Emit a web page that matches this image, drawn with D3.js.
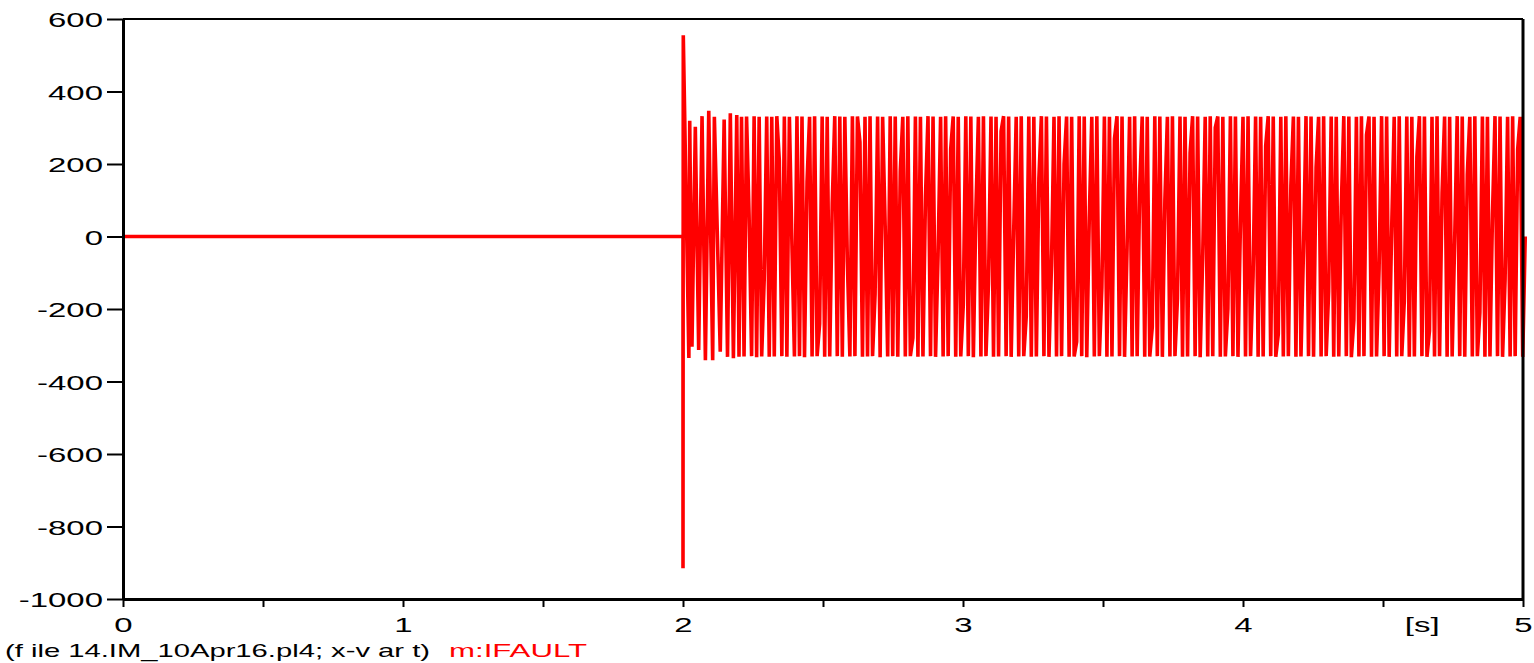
<!DOCTYPE html>
<html>
<head>
    <meta charset="utf-8">
    <title>m:IFAULT</title>
    <script src="https://cdnjs.cloudflare.com/ajax/libs/d3/7.8.5/d3.min.js"></script>
    <style>
        body { margin: 0; background: #fff; }
        svg { display: block; font-family: "Liberation Sans", Arial, sans-serif; }
    </style>
</head>
<body>
    <div id="chart"></div>

    <script>
        // tick values
        var yTicks = [600, 400, 200, 0, -200, -400, -600, -800, -1000];
        var xTicks = [0, 0.5, 1, 1.5, 2, 2.5, 3, 3.5, 4, 4.5, 5];
        var xLabels = [0, 1, 2, 3, 4, 5];

        // before the fault: flat zero
        var prefaultTimes = [0, 2.0];
        var prefaultValues = [0, 0];

        // fault inception and first cycles
        var transientTimes = [2.0, 2.001, 2.021, 2.024, 2.032, 2.044, 2.056, 2.068, 2.080, 2.092,
            2.106, 2.112, 2.118, 2.133, 2.147, 2.159, 2.169, 2.180, 2.192];
        var transientValues = [-915, 555, -335, 319, -304, 303, -313, 332, -341, 347,
            -341, 330, 150, -318, 323, -332, 340, -336, 335];

        // steady fault current, one sample every 0.009 s from 2.2 s
        var steadyStart = 2.2;
        var steadyStep = 0.009;
        var steadyValues = [
            -332, 330, -331, 331, 60, -330, 332, -333, 330, -331, -120, 331, -332, 330, -331, 332, 210, -330, 331, -332, 330, -20, -331, 332,
            -330, 331, -333, 150, 330, -331, 332, -330, -240, 331, -332, 330, -331, 90, 332, -330, 331, -332, 330, -70, -331, 332, -330, 331,
            260, -332, 330, -331, 332, -330, -160, 331, -333, 330, 30, -331, 332, -330, 331, -332, 180, 330, -331, 332, -330, -280, 331, -332,
            330, -331, 110, 332, -330, 331, -332, -50, 330, -331, 332, -330, 240, 331, -332, 330, -331, -190, 332, -330, 331, -333, 70, 330,
            -331, 332, -330, -130, 331, -332, 330, -331, 290, 332, -330, 331, -332, 10, 330, -331, 332, -330, -220, 331, -332, 330, -331, 160,
            332, -330, 331, -332, -80, 330, -331, 332, -330, 200, 331, -332, 330, -331, -290, 332, -330, 331, -333, 50, 330, -331, 332, -330,
            -140, 331, -332, 330, -331, 270, 332, -330, 331, -332, -30, 330, -331, 332, -330, 130, 331, -332, 330, -331, -250, 332, -330, 331,
            -332, 100, 330, -331, 332, -330, -170, 331, -332, 330, -331, 230, 332, -330, 331, -333, -60, 330, -331, 332, -330, 300, 331, -332,
            330, -331, -200, 332, -330, 331, -332, 40, 330, -331, 332, -330, -110, 331, -332, 330, -331, 250, 332, -330, 331, -332, -270, 330,
            -331, 332, -330, 140, 331, -332, 330, -331, -40, 332, -330, 331, -332, 190, 330, -331, 332, -330, -150, 331, -332, 330, -331, 80,
            332, -330, 331, -333, -230, 330, -331, 332, -330, 280, 331, -332, 330, -331, -90, 332, -330, 331, -332, 20, 330, -331, 332, -330,
            -180, 331, -332, 330, -331, 220, 332, -330, 331, -332, -260, 330, -331, 332, -330, 120, 331, -332, 330, -331, -10, 332, -330, 331,
            -332, 170, 330, -331, 332, -330, -210, 331, -332, 330, -331, 60, 332, -330, 331, -332, -120, 330, -331, 332, -330, 240, 330, -332,
            0
        ];

        var svgWidth = 1534;
        var svgHeight = 663;
        var plotLeft = 123, plotRight = 1523, plotTop = 19, plotBottom = 599;
        var stretch = 1.57;

        var svg = d3.select("#chart").append("svg")
            .attr("width", svgWidth)
            .attr("height", svgHeight);

        var xScale = d3.scaleLinear().domain([0, 5]).range([plotLeft, plotRight]);
        var yScale = d3.scaleLinear().domain([-1000, 600]).range([plotBottom, plotTop]);

        // build the series
        var points = [];
        for (var i = 0; i < prefaultTimes.length; i++) {
            points.push([prefaultTimes[i], prefaultValues[i]]);
        }
        for (var j = 0; j < transientTimes.length; j++) {
            points.push([transientTimes[j], transientValues[j]]);
        }
        for (var k = 0; k < steadyValues.length; k++) {
            points.push([steadyStart + k * steadyStep, steadyValues[k]]);
        }

        var line = d3.line()
            .x(function (d) { return xScale(d[0]); })
            .y(function (d) { return yScale(d[1]); });

        svg.append("path")
            .datum(points)
            .attr("d", line)
            .attr("fill", "none")
            .attr("stroke", "#ff0000")
            .attr("stroke-width", 3.6)
            .attr("stroke-linejoin", "bevel");

        // frame top / right
        svg.append("line")
            .attr("x1", plotLeft).attr("x2", plotRight)
            .attr("y1", plotTop).attr("y2", plotTop)
            .attr("stroke", "#000").attr("stroke-width", 2);
        svg.append("line")
            .attr("x1", plotRight).attr("x2", plotRight)
            .attr("y1", plotTop).attr("y2", plotBottom)
            .attr("stroke", "#000").attr("stroke-width", 3);

        // y axis
        var yAxis = svg.append("g")
            .attr("transform", "translate(" + plotLeft + ",0)")
            .call(d3.axisLeft(yScale).tickValues(yTicks).tickSize(16).tickSizeOuter(0)
                .tickFormat(function (d) { return String(d); }));
        yAxis.select(".domain").attr("stroke-width", 3);
        yAxis.selectAll(".tick line").attr("stroke-width", 2);
        yAxis.selectAll(".tick text")
            .attr("x", null)
            .attr("dy", null)
            .attr("transform", "translate(-20,7.5) scale(" + stretch + ",1)")
            .style("font-size", "21px")
            .style("font-family", "'Liberation Sans', Arial, sans-serif")
            .attr("fill", "#000");

        // x axis
        var xAxis = svg.append("g")
            .attr("transform", "translate(0," + plotBottom + ")")
            .call(d3.axisBottom(xScale).tickValues(xTicks).tickSize(8).tickSizeOuter(0)
                .tickFormat(function (d) { return xLabels.indexOf(d) >= 0 ? String(d) : ""; }));
        xAxis.select(".domain").attr("stroke-width", 3);
        xAxis.selectAll(".tick line").attr("stroke-width", 2);
        xAxis.selectAll(".tick text")
            .attr("y", null)
            .attr("dy", null)
            .attr("transform", "translate(0,33) scale(" + stretch + ",1)")
            .style("font-size", "21px")
            .style("font-family", "'Liberation Sans', Arial, sans-serif")
            .attr("fill", "#000");

        svg.append("text")
            .attr("transform", "translate(" + xScale(4.64) + "," + (plotBottom + 33) + ") scale(" + stretch + ",1)")
            .attr("text-anchor", "middle")
            .style("font-size", "21px")
            .text("[s]");

        // caption
        svg.append("text")
            .attr("x", 5)
            .attr("y", 657)
            .attr("textLength", 425)
            .attr("lengthAdjust", "spacingAndGlyphs")
            .style("font-size", "19px")
            .text("(f ile 14.IM_10Apr16.pl4; x-v ar t)");

        svg.append("text")
            .attr("x", 449)
            .attr("y", 657)
            .attr("textLength", 138)
            .attr("lengthAdjust", "spacingAndGlyphs")
            .attr("fill", "#ff0000")
            .style("font-size", "19px")
            .text("m:IFAULT");
    </script>
</body>
</html>
